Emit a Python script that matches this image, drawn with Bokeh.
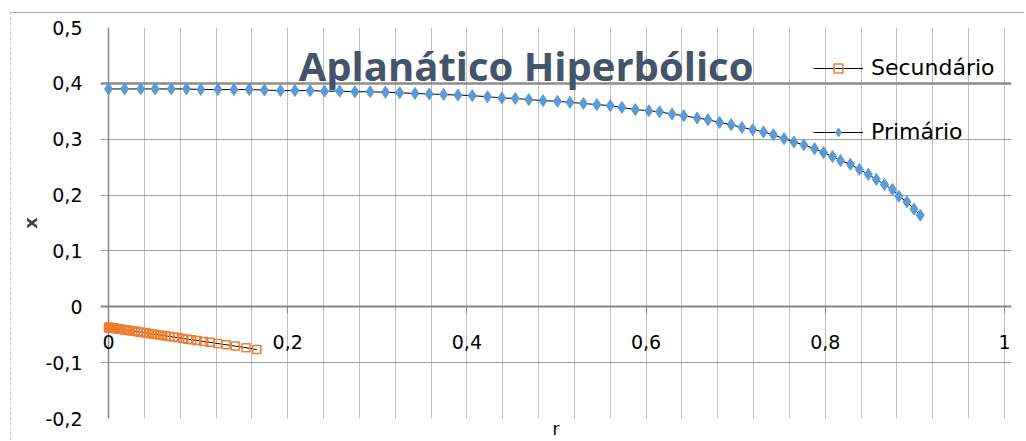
from bokeh.plotting import figure
from bokeh.models import (Range1d, SingleIntervalTicker, FixedTicker, CustomJSTickFormatter,
                          Label, Legend, LegendItem, Grid, LinearAxis)
from bokeh.embed import file_html
from bokeh.resources import INLINE

# ---- data ----
r_pri = [0.000, 0.018, 0.036, 0.052, 0.070, 0.087, 0.103, 0.122, 0.140, 0.157,
         0.174, 0.192, 0.208, 0.225, 0.241, 0.258, 0.275, 0.292, 0.309, 0.325,
         0.342, 0.358, 0.374, 0.390, 0.406, 0.423, 0.439, 0.454, 0.469, 0.485,
         0.501, 0.515, 0.530, 0.545, 0.560, 0.573, 0.588, 0.603, 0.615, 0.629,
         0.642, 0.657, 0.669, 0.682, 0.695, 0.707, 0.719, 0.731, 0.742, 0.754,
         0.765, 0.776, 0.788, 0.798, 0.808, 0.817, 0.828, 0.838, 0.848, 0.857,
         0.866, 0.875, 0.882, 0.891, 0.899, 0.906]
x_pri = [0.390, 0.390, 0.390, 0.390, 0.390, 0.390, 0.389, 0.389, 0.389, 0.389,
         0.388, 0.387, 0.387, 0.387, 0.386, 0.386, 0.385, 0.385, 0.384, 0.383,
         0.382, 0.381, 0.380, 0.379, 0.378, 0.376, 0.374, 0.373, 0.371, 0.369,
         0.368, 0.366, 0.364, 0.362, 0.360, 0.357, 0.353, 0.351, 0.349, 0.345,
         0.342, 0.338, 0.335, 0.330, 0.326, 0.321, 0.317, 0.313, 0.308, 0.301,
         0.295, 0.290, 0.283, 0.276, 0.269, 0.262, 0.255, 0.246, 0.237, 0.228,
         0.219, 0.210, 0.198, 0.188, 0.175, 0.164]

r_sec = [0.0, 0.0001, 0.0002, 0.0004, 0.0007, 0.0011, 0.0016, 0.0022, 0.0029, 0.0037,
         0.0046, 0.0056, 0.0067, 0.0079, 0.0092, 0.0106, 0.0122, 0.0139, 0.0157, 0.0177,
         0.0198, 0.0221, 0.0245, 0.0271, 0.0298, 0.0327, 0.0357, 0.0389, 0.0422, 0.0457,
         0.0494, 0.0531, 0.0568, 0.0605, 0.0642, 0.0679, 0.0728, 0.0773, 0.0829, 0.0884,
         0.0929, 0.0988, 0.1063, 0.1133, 0.1219, 0.1312, 0.1415, 0.1535, 0.1655]
x_sec = [-0.0370, -0.0370, -0.0370, -0.0371, -0.0372, -0.0373, -0.0374, -0.0375, -0.0377, -0.0379,
         -0.0381, -0.0383, -0.0386, -0.0389, -0.0392, -0.0395, -0.0399, -0.0403, -0.0407, -0.0412,
         -0.0417, -0.0422, -0.0428, -0.0434, -0.0440, -0.0447, -0.0454, -0.0462, -0.0470, -0.0478,
         -0.0487, -0.0495, -0.0504, -0.0513, -0.0522, -0.0530, -0.0542, -0.0552, -0.0566, -0.0579,
         -0.0589, -0.0603, -0.0621, -0.0637, -0.0658, -0.0680, -0.0704, -0.0732, -0.0765]

title_text = "Aplanático Hiperbólico"
series_names = ["Secundário", "Primário"]
x_label = "r"
y_label = "x"

BLUE = "#5B9BD5"
ORANGE = "#ED7D31"

# a few pixels of room either side of r = 0 and r = 1 so the axis labels at the ends show
p = figure(width=1014, height=428, output_backend="svg", toolbar_location=None,
           x_range=Range1d(-0.00893, 1.00782), y_range=Range1d(-0.2, 0.5),
           min_border_left=89, min_border_right=14, min_border_top=14, min_border_bottom=21,
           styles={"margin-top": "12px", "margin-left": "10px",
                   "border-top": "1px solid #a6a6a6", "border-left": "1px dashed #c8c8c8"})
p.outline_line_color = None
p.background_fill_color = "white"
p.border_fill_color = "white"

fmt = CustomJSTickFormatter(code="return (Math.round(tick*10)/10).toString().replace('.', ',');")

# x axis (crossing at y = 0)
xa = p.xaxis[0]
xa.ticker = SingleIntervalTicker(interval=0.2, num_minor_ticks=5)
xa.formatter = fmt
xa.fixed_location = 0
xa.axis_line_color = "#868686"
xa.axis_line_width = 2
xa.major_tick_line_color = "#868686"
xa.major_tick_out = 7
xa.major_tick_in = 0
xa.minor_tick_out = 0
xa.minor_tick_in = 0
xa.major_label_standoff = 21
xa.major_label_text_font = "DejaVu Sans"
xa.major_label_text_font_size = "19px"
xa.major_label_text_color = "black"

# axis title "r" below the plot area
xt = LinearAxis(ticker=FixedTicker(ticks=[]), axis_line_color=None,
                major_tick_out=0, major_tick_in=0, minor_tick_out=0, minor_tick_in=0,
                major_label_text_font_size="0px", major_label_standoff=0,
                axis_label=x_label, axis_label_standoff=0,
                axis_label_text_font="DejaVu Sans", axis_label_text_font_style="normal",
                axis_label_text_font_size="17px", axis_label_text_color="black")
p.add_layout(xt, "below")

# y axis (its line is the grid line at r = 0; grid lines stick out as ticks)
ya = p.yaxis[0]
ya.ticker = SingleIntervalTicker(interval=0.1, num_minor_ticks=0)
ya.formatter = fmt
ya.axis_line_color = None
ya.major_tick_out = 0
ya.major_tick_in = 0
ya.minor_tick_out = 0
ya.minor_tick_in = 0
ya.major_label_standoff = 18
ya.major_label_text_font = "DejaVu Sans"
ya.major_label_text_font_size = "19px"
ya.major_label_text_color = "black"
ya.axis_label = y_label
ya.axis_label_text_font = "DejaVu Sans"
ya.axis_label_text_font_style = "bold"
ya.axis_label_text_font_size = "18px"
ya.axis_label_standoff = 1

# grids
p.xgrid.grid_line_color = "#bfbfbf"
p.xgrid.minor_grid_line_color = "#bfbfbf"
p.ygrid.grid_line_color = "#a0a0a0"
p.add_layout(Grid(dimension=1, ticker=FixedTicker(ticks=[0.4]),
                  grid_line_color="#8c8c8c", grid_line_width=2.5))
p.add_layout(Grid(dimension=0, ticker=FixedTicker(ticks=[0]),
                  grid_line_color="#868686", grid_line_width=1.5))

# series
l2 = p.line(r_sec, x_sec, line_color="black", line_width=1)
s2 = p.scatter(r_sec, x_sec, marker="square", size=8, fill_color=None,
               line_color=ORANGE, line_width=1.5)
l1 = p.line(r_pri, x_pri, line_color="black", line_width=1)
s1 = p.scatter(r_pri, x_pri, marker="diamond", size=12, fill_color=BLUE, line_color=BLUE)

legend = Legend(items=[LegendItem(label=series_names[0], renderers=[l2, s2]),
                       LegendItem(label=series_names[1], renderers=[l1, s1])],
                location=(713, 274), orientation="vertical",
                glyph_width=50, glyph_height=22, label_height=22, label_standoff=8,
                spacing=39, padding=0, margin=0, border_line_color=None,
                background_fill_alpha=0,
                label_text_font="DejaVu Sans", label_text_font_size="22px",
                label_text_color="black")
p.add_layout(legend)

p.add_layout(Label(x=0.466, y=0.432, text=title_text, text_align="center",
                   text_baseline="alphabetic", text_font="Open Sans",
                   text_font_style="bold", text_font_size="40px", text_color="#44546A"))

open("out.html", "w").write(file_html(p, INLINE))
